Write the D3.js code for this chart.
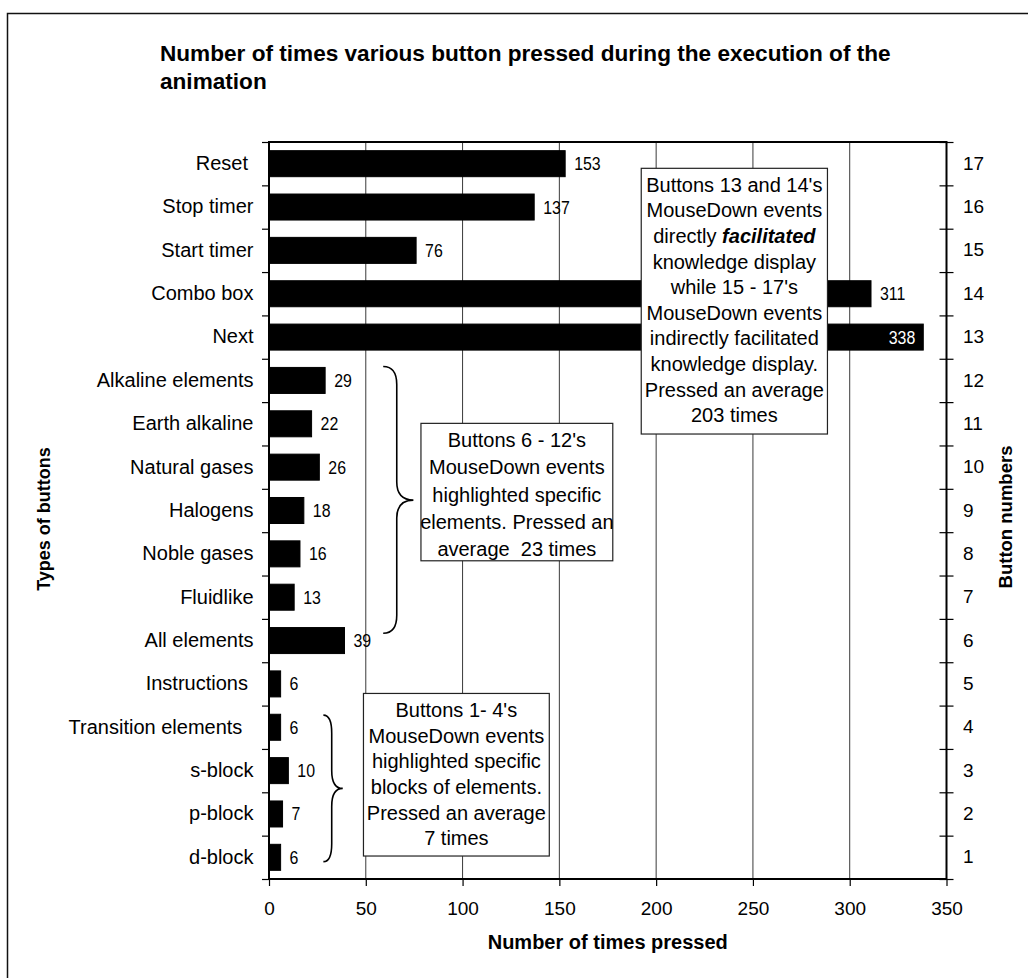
<!DOCTYPE html>
<html>
<head>
<meta charset="utf-8">
<script src="https://cdn.jsdelivr.net/npm/d3@7"></script>
<style>
  body { margin: 0; background: #fff; }
  text { font-family: "Liberation Sans", Arial, Helvetica, sans-serif; fill: #000; }
</style>
</head>
<body>
<svg id="chart" width="1028" height="978"></svg>
<script>
// ---- data ----
const buttonTypes = [
  "Reset ", "Stop timer", "Start timer", "Combo box", "Next",
  "Alkaline elements", "Earth alkaline", "Natural gases", "Halogens",
  "Noble gases", "Fluidlike", "All elements", "Instructions ",
  "Transition elements  ", "s-block", "p-block", "d-block"
];
const buttonNumbers = [17, 16, 15, 14, 13, 12, 11, 10, 9, 8, 7, 6, 5, 4, 3, 2, 1];
const timesPressed = [153, 137, 76, 311, 338, 29, 22, 26, 18, 16, 13, 39, 6, 6, 10, 7, 6];
const xTickValues = [0, 50, 100, 150, 200, 250, 300, 350];
const gridValues = [50, 100, 150, 200, 250, 300];
const titleLines = [
  "Number of times various button pressed during the execution of the",
  "animation"
];
const xAxisTitle = "Number of times pressed";
const leftAxisTitle = "Types of buttons";
const rightAxisTitle = "Button numbers";

// callouts: lines of text (segments allow bold-italic runs), placed in value / band units
const callouts = [
  { x0: 192.3, x1: 288.5, b0: 0.607, b1: 6.736, lineGap: 25.6, lines: [
      [["Buttons 13 and 14's"]], [["MouseDown events"]],
      [["directly "], ["facilitated", "bi"]], [["knowledge display"]],
      [["while 15 - 17's"]], [["MouseDown events"]],
      [["indirectly facilitated"]], [["knowledge display."]],
      [["Pressed an average"]], [["203 times"]] ] },
  { x0: 78.5, x1: 177.6, b0: 6.49, b1: 9.66, lineGap: 27.4, lines: [
      [["Buttons 6 - 12's"]], [["MouseDown events"]], [["highlighted specific"]],
      [["elements. Pressed an"]], [["average  23 times"]] ] },
  { x0: 48.8, x1: 144.8, b0: 12.72, b1: 16.47, lineGap: 25.7, lines: [
      [["Buttons 1- 4's"]], [["MouseDown events"]], [["highlighted specific"]],
      [["blocks of elements."]], [["Pressed an average"]], [["7 times"]] ] }
];
// curly braces grouping button ranges (value units for x, band units for y)
const braces = [
  { end: 59.0, spine: 66.0, tip: 74.6, b0: 5.18, bm: 8.26, b1: 11.33 },
  { end: 28.1, spine: 32.4, tip: 38.1, b0: 13.22, bm: 14.91, b1: 16.60 }
];

// ---- layout ----
const plot = { left: 269, right: 946.5, top: 142, bottom: 879 };
const svg = d3.select("#chart");

svg.append("rect").attr("x", 7.5).attr("y", 13.5).attr("width", 1040).attr("height", 1000)
  .attr("fill", "#fff").attr("stroke", "#111").attr("stroke-width", 1.5);

const x = d3.scaleLinear().domain([0, 350]).range([plot.left, plot.right]);
const y = d3.scaleBand().domain(buttonTypes).range([plot.top, plot.bottom]).paddingInner(0.4).paddingOuter(0.2);
const yNum = d3.scaleBand().domain(buttonNumbers).range([plot.top, plot.bottom]);
const yIdx = d3.scaleLinear().domain([0, buttonTypes.length]).range([plot.top, plot.bottom]);

// title
const title = svg.append("text").attr("x", 160).attr("y", 60.5)
  .attr("font-size", 22.6).attr("font-weight", "bold");
titleLines.forEach((t, i) => title.append("tspan").attr("x", 160).attr("dy", i === 0 ? 0 : 28.5).text(t));

// vertical gridlines
svg.append("g").selectAll("line").data(gridValues).join("line")
  .attr("x1", d => x(d)).attr("x2", d => x(d))
  .attr("y1", plot.top).attr("y2", plot.bottom)
  .attr("stroke", "#3a3a3a").attr("stroke-width", 1);

// bars
svg.append("g").selectAll("rect").data(timesPressed).join("rect")
  .attr("x", x(0))
  .attr("y", (d, i) => y(buttonTypes[i]))
  .attr("width", d => x(d) - x(0))
  .attr("height", y.bandwidth())
  .attr("fill", "#000").attr("stroke", "#000").attr("stroke-width", 1);

// value labels (condensed digits)
const maxVal = d3.max(timesPressed);
svg.append("g").selectAll("text").data(timesPressed).join("text")
  .attr("transform", (d, i) => {
    const cy = y(buttonTypes[i]) + y.bandwidth() / 2;
    const tx = d === maxVal ? x(d) - 8 : x(d) + 9;
    return `translate(${tx},${cy}) scale(0.86,1)`;
  })
  .attr("dy", "0.35em")
  .attr("font-size", 18.5)
  .attr("text-anchor", d => d === maxVal ? "end" : "start")
  .style("fill", d => d === maxVal ? "#fff" : "#000")
  .text(d => d);

// plot frame
svg.append("rect").attr("x", plot.left).attr("y", plot.top)
  .attr("width", plot.right - plot.left).attr("height", plot.bottom - plot.top)
  .attr("fill", "none").attr("stroke", "#000").attr("stroke-width", 2);

// left category axis
const leftAxis = svg.append("g").attr("transform", `translate(${plot.left},0)`)
  .call(d3.axisLeft(y).tickSize(0).tickPadding(15.5));
leftAxis.select(".domain").remove();
leftAxis.selectAll("text").attr("font-size", 20).style("white-space", "pre")
  .style("font-family", "'Liberation Sans', Arial, sans-serif");

// left boundary ticks
const leftTicks = svg.append("g").attr("transform", `translate(${plot.left},0)`)
  .call(d3.axisLeft(yIdx).tickValues(d3.range(buttonTypes.length + 1)).tickSize(7).tickFormat(""));
leftTicks.select(".domain").remove();
leftTicks.selectAll("line").attr("stroke-width", 1.2);

// right button-number axis
const rightAxis = svg.append("g").attr("transform", `translate(${plot.right},0)`)
  .call(d3.axisRight(yNum).tickSize(0).tickPadding(16.5));
rightAxis.select(".domain").remove();
rightAxis.selectAll("text").attr("font-size", 19)
  .style("font-family", "'Liberation Sans', Arial, sans-serif");

// right boundary ticks (crossing the axis)
const rightTicks = svg.append("g").attr("transform", `translate(${plot.right - 7},0)`)
  .call(d3.axisRight(yIdx).tickValues(d3.range(buttonTypes.length + 1)).tickSize(14).tickFormat(""));
rightTicks.select(".domain").remove();
rightTicks.selectAll("line").attr("stroke-width", 1.2);

// bottom value axis
const bottomAxis = svg.append("g").attr("transform", `translate(0,${plot.bottom})`)
  .call(d3.axisBottom(x).tickValues(xTickValues).tickSize(7).tickPadding(15.5));
bottomAxis.select(".domain").remove();
bottomAxis.selectAll("line").attr("stroke-width", 1.2);
bottomAxis.selectAll("text").attr("font-size", 19)
  .style("font-family", "'Liberation Sans', Arial, sans-serif");

// axis titles
svg.append("text").attr("x", (plot.left + plot.right) / 2).attr("y", 949)
  .attr("text-anchor", "middle").attr("font-size", 20).attr("font-weight", "bold").text(xAxisTitle);
svg.append("text").attr("transform", "translate(50,519) rotate(-90)")
  .attr("text-anchor", "middle").attr("font-size", 18).attr("font-weight", "bold").text(leftAxisTitle);
svg.append("text").attr("transform", "translate(1011.5,517) rotate(-90)")
  .attr("text-anchor", "middle").attr("font-size", 18.5).attr("font-weight", "bold").text(rightAxisTitle);

// braces
const bandY = b => yIdx(b);
braces.forEach(br => {
  const xe = x(br.end), xs = x(br.spine), xt = x(br.tip);
  const y0 = bandY(br.b0), ym = bandY(br.bm), y1 = bandY(br.b1);
  const r = Math.min(18, (ym - y0) / 3);
  const p = d3.path();
  p.moveTo(xe, y0);
  p.quadraticCurveTo(xs, y0, xs, y0 + r);
  p.lineTo(xs, ym - r);
  p.quadraticCurveTo(xs, ym, xt, ym);
  p.quadraticCurveTo(xs, ym, xs, ym + r);
  p.lineTo(xs, y1 - r);
  p.quadraticCurveTo(xs, y1, xe, y1);
  svg.append("path").attr("d", p.toString()).attr("fill", "none")
    .attr("stroke", "#000").attr("stroke-width", 1.6);
});

// callout boxes
callouts.forEach(c => {
  const bx0 = x(c.x0), bx1 = x(c.x1), by0 = bandY(c.b0), by1 = bandY(c.b1);
  svg.append("rect").attr("x", bx0).attr("y", by0).attr("width", bx1 - bx0).attr("height", by1 - by0)
    .attr("fill", "#fff").attr("stroke", "#222").attr("stroke-width", 1.2);
  const cx = (bx0 + bx1) / 2;
  c.lines.forEach((segs, i) => {
    const t = svg.append("text").attr("x", cx).attr("y", by0 + 23.4 + i * c.lineGap)
      .attr("text-anchor", "middle").attr("font-size", 20).style("white-space", "pre");
    segs.forEach(s => {
      const ts = t.append("tspan").text(s[0]);
      if (s[1] === "bi") ts.attr("font-weight", "bold").attr("font-style", "italic");
    });
  });
});
</script>
</body>
</html>
